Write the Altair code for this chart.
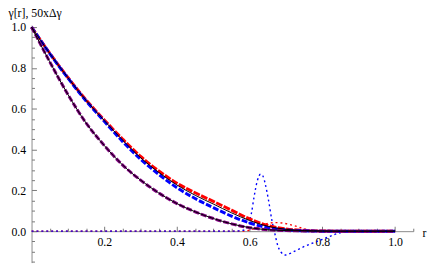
import altair as alt
import pandas as pd

# ---------------- data ----------------
r_grid = [0.0, 0.05, 0.1, 0.15, 0.2, 0.25, 0.3, 0.35, 0.4, 0.45, 0.5,
          0.55, 0.6, 0.65, 0.7, 0.75, 0.8, 0.85, 0.9, 0.95, 1.0]

red_curve = [1.0, 0.872, 0.753, 0.643, 0.545, 0.452, 0.366, 0.295, 0.235, 0.188, 0.146,
             0.103, 0.06, 0.028, 0.011, 0.004, 0.001, 0.0, 0.0, 0.0, 0.0]
blue_curve = [1.0, 0.87, 0.75, 0.638, 0.538, 0.44, 0.352, 0.278, 0.213, 0.16, 0.115,
              0.074, 0.04, 0.017, 0.006, 0.002, 0.0, 0.0, 0.0, 0.0, 0.0]
purple_curve = [1.0, 0.83, 0.67, 0.53, 0.42, 0.325, 0.25, 0.187, 0.135, 0.095, 0.062,
                0.036, 0.017, 0.007, 0.003, 0.001, 0.0, 0.0, 0.0, 0.0, 0.0]
exact_upper = [1.0, 0.871, 0.752, 0.641, 0.542, 0.447, 0.36, 0.288, 0.226, 0.176, 0.133,
               0.09, 0.052, 0.024, 0.009, 0.003, 0.001, 0.0, 0.0, 0.0, 0.0]
exact_lower = [1.0, 0.83, 0.67, 0.53, 0.42, 0.325, 0.25, 0.187, 0.135, 0.095, 0.062,
               0.036, 0.017, 0.007, 0.003, 0.001, 0.0, 0.0, 0.0, 0.0, 0.0]

blue_diff_r = [0.0, 0.1, 0.2, 0.3, 0.4, 0.5, 0.55, 0.575, 0.59, 0.598, 0.605, 0.612,
               0.621, 0.63, 0.637, 0.643, 0.652, 0.661, 0.669, 0.678, 0.686, 0.697,
               0.71, 0.724, 0.75, 0.775, 0.8, 0.82, 0.84, 0.86, 0.88, 0.9, 0.95, 1.0]
blue_diff = [0.0, 0.0, 0.0, 0.0, 0.0, 0.0, 0.0, 0.002, 0.012, 0.038, 0.09, 0.167,
             0.247, 0.279, 0.268, 0.23, 0.15, 0.054, -0.01, -0.075, -0.102, -0.117,
             -0.11, -0.098, -0.075, -0.057, -0.04, -0.026, -0.012, -0.004, -0.001, 0.0, 0.0, 0.0]

red_diff_r = [0.0, 0.1, 0.2, 0.3, 0.4, 0.5, 0.58, 0.6, 0.616, 0.643, 0.67, 0.697,
              0.724, 0.751, 0.778, 0.8, 0.83, 0.86, 0.9, 0.95, 1.0]
red_diff = [0.0, 0.0, 0.0, 0.0, 0.0, 0.0, 0.0, 0.005, 0.014, 0.035, 0.042, 0.038,
            0.026, 0.011, 0.0, -0.004, -0.005, -0.002, 0.0, 0.0, 0.0]

x_major = [0.2, 0.4, 0.6, 0.8, 1.0]
x_minor = [0.05, 0.1, 0.15, 0.25, 0.3, 0.35, 0.45, 0.5, 0.55, 0.65, 0.7, 0.75,
           0.85, 0.9, 0.95, 1.05]
y_major = [0.0, 0.2, 0.4, 0.6, 0.8, 1.0]
y_minor = [-0.15, -0.1, -0.05, 0.05, 0.1, 0.15, 0.25, 0.3, 0.35, 0.45, 0.5, 0.55,
           0.65, 0.7, 0.75, 0.85, 0.9, 0.95]

# ---------------- layout / style ----------------
X_DOMAIN = [0.0, 1.05]
Y_DOMAIN = [-0.154, 1.0096]
W, H = 389, 242
FONT = "Liberation Serif"
FS = 12
AXIS_GRAY = "#8a8a8a"
TICK_GRAY = "#777777"

y0_from_top = (Y_DOMAIN[1] - 0.0) / (Y_DOMAIN[1] - Y_DOMAIN[0]) * H

xscale = alt.Scale(domain=X_DOMAIN, nice=False, zero=False)
yscale = alt.Scale(domain=Y_DOMAIN, nice=False, zero=False)


def frame(xs, ys):
    return pd.DataFrame({"r": xs, "v": ys})


def line(df, color, width, dash=None, xaxis=None, yaxis=None):
    kw = dict(color=color, strokeWidth=width, interpolate="monotone")
    if dash is not None:
        kw["strokeDash"] = dash
    return alt.Chart(df).mark_line(**kw).encode(
        x=alt.X("r:Q", scale=xscale, axis=xaxis),
        y=alt.Y("v:Q", scale=yscale, axis=yaxis),
    )


x_label_axis = alt.Axis(
    orient="bottom", offset=-(H - y0_from_top), values=x_major, format=".1f",
    ticks=False, tickSize=0, domain=True, domainColor=AXIS_GRAY, domainWidth=1,
    labelFont=FONT, labelFontSize=FS, labelColor="black", labelPadding=6,
    labelFlush=False, labelOverlap=False, grid=False,
    title="r", titleFont=FONT, titleFontSize=FS, titleFontWeight="normal",
    titleColor="black", titleAngle=0, titleAlign="left", titleBaseline="alphabetic",
    titleX=W + 9, titleY=5,
)
y_label_axis = alt.Axis(
    orient="left", values=y_major, format=".1f",
    ticks=False, tickSize=0, domain=True, domainColor=AXIS_GRAY, domainWidth=1,
    labelFont=FONT, labelFontSize=FS, labelColor="black", labelPadding=6,
    labelFlush=False, labelOverlap=False, grid=False,
    title="γ[r], 50xΔγ", titleFont=FONT, titleFontSize=FS, titleFontWeight="normal",
    titleColor="black", titleAngle=0, titleAlign="left", titleBaseline="alphabetic",
    titleX=-24, titleY=-9,
)


def tick_axis(orient, offset, values, size):
    return alt.Axis(
        orient=orient, offset=offset, values=values, labels=False, domain=False,
        ticks=True, tickSize=size, tickColor=TICK_GRAY, tickWidth=1, grid=False, title=None,
    )


red_diff_layer = line(frame(red_diff_r, red_diff), "#ff0000", 1.4, dash=[2, 3])
blue_diff_layer = line(frame(blue_diff_r, blue_diff), "#0000ff", 1.4, dash=[2, 3])
red_layer = line(frame(r_grid, red_curve), "#ff0000", 3, dash=[7, 1.5],
                 xaxis=x_label_axis, yaxis=y_label_axis)
blue_layer = line(frame(r_grid, blue_curve), "#0000ff", 3, dash=[6, 2],
                  xaxis=tick_axis("top", -y0_from_top, x_major, 5),
                  yaxis=tick_axis("right", -W, y_major, 5))
purple_layer = line(frame(r_grid, purple_curve), "#800080", 3, dash=[6, 2],
                    xaxis=tick_axis("top", -y0_from_top, x_minor, 3),
                    yaxis=tick_axis("right", -W, y_minor, 3))
exact_up_layer = line(frame(r_grid, exact_upper), "black", 1)
exact_low_layer = line(frame(r_grid, exact_lower), "black", 1)

chart = (
    alt.layer(red_diff_layer, blue_diff_layer, red_layer, blue_layer, purple_layer,
              exact_up_layer, exact_low_layer)
    .resolve_axis(x="independent", y="independent")
    .properties(
        width=W, height=H,
        autosize=alt.AutoSizeParams(type="none"),
        padding={"left": 24, "top": 15, "right": 15, "bottom": 0},
        background="white",
    )
    .configure_view(stroke=None)
)

chart.save("out.html", embed_options={"renderer": "svg", "actions": False})
